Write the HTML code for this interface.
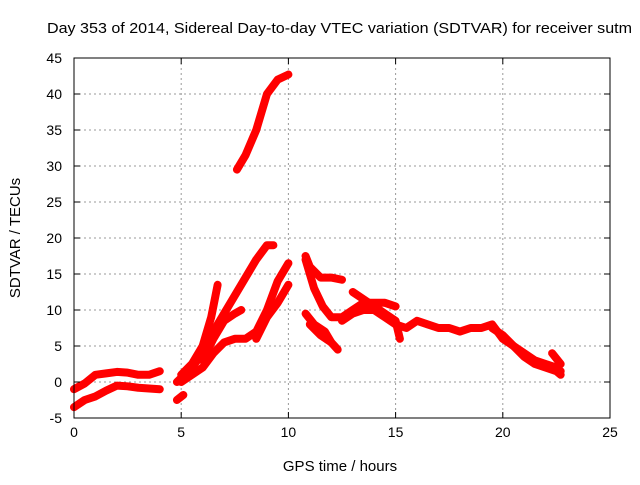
<!DOCTYPE html>
<html><head><meta charset="utf-8"><style>
body{margin:0;background:#fff;font-family:"Liberation Sans",sans-serif;}
</style></head><body>
<svg id="c" width="640" height="480" xmlns="http://www.w3.org/2000/svg">
<text x="47" y="33" textLength="585" lengthAdjust="spacingAndGlyphs" font-size="15">Day 353 of 2014, Sidereal Day-to-day VTEC variation (SDTVAR) for receiver sutm</text>
<text x="340" y="471" text-anchor="middle" font-size="15">GPS time / hours</text>
<text transform="translate(20,238) rotate(-90)" text-anchor="middle" font-size="15">SDTVAR / TECUs</text>
<g id="grid"></g><g id="marks"></g><g id="axes"></g>
</svg>
<script>
const xTicks=[0,5,10,15,20,25];
const yTicks=[-5,0,5,10,15,20,25,30,35,40,45];
const s1h=[0,0.5,1,1.5,2,2.5,3,3.5,4], s1v=[-1,-0.2,1,1.2,1.4,1.3,1,1,1.5];
const s2h=[0,0.5,1,1.5,2,2.5,3,3.5,4], s2v=[-3.5,-2.5,-2,-1.2,-0.5,-0.6,-0.8,-0.9,-1];
const s3h=[7.6,8,8.5,9,9.5,10], s3v=[29.5,31.5,35,40,42,42.7];
const s4h=[4.8,5.5,6,6.5,7,7.5,8,8.5,9,9.3], s4v=[0,2,4,7,9.5,12,14.5,17,19,19];
const s5h=[5,5.5,6,6.4,6.6,6.7], s5v=[1,2.5,5,9,12,13.5];
const s6h=[6,6.5,7,7.5,7.8], s6v=[3,6,8.5,9.5,10];
const s7h=[5,6,6.5,7,7.5,8,8.5,9,9.5,10], s7v=[0,2,4,5.5,6,6,7,10,14,16.5];
const s8h=[8.5,9,9.5,10], s8v=[6,9,11,13.5];
const s9h=[4.8,5.1], s9v=[-2.5,-1.8];
const s10h=[10.8,11,11.5,12,12.5], s10v=[17.5,16,14.5,14.5,14.2];
const s11h=[10.8,11.2,11.6,12,12.5,13,13.5,14,14.5,15], s11v=[17,13,10.5,9,9,10,11,11,11,10.5];
const s12h=[10.8,11.2,11.7,12,12.3], s12v=[9.5,8,7,5.5,4.5];
const s13h=[11,11.5,12], s13v=[8,6.5,5.5];
const s14h=[12.5,13,13.5,14,14.5,15,15.5,16,16.5,17,17.5,18,18.5,19,19.5,20,20.5,21,21.5,22,22.5,22.7], s14v=[8.5,9.5,10,10,9,8,7.5,8.5,8,7.5,7.5,7,7.5,7.5,8,6,5,3.5,2.5,2,1.5,1];
const s15h=[13,13.5,14,14.5,15,15.2], s15v=[12.5,11.5,10.5,9.5,8.5,6];
const s16h=[19.5,20,20.5,21,21.5,22,22.5,22.7], s16v=[7.5,6.5,5,4,3,2.5,2,1.5];
const s17h=[22.3,22.7], s17v=[4,2.5];
const series=[[s1h,s1v],[s2h,s2v],[s3h,s3v],[s4h,s4v],[s5h,s5v],[s6h,s6v],[s7h,s7v],[s8h,s8v],[s9h,s9v],[s10h,s10v],[s11h,s11v],[s12h,s12v],[s13h,s13v],[s14h,s14v],[s15h,s15v],[s16h,s16v],[s17h,s17v]];
const L=74,R=610,T=58,B=418;
const X=h=>L+(h-0)/25*(R-L);
const Y=v=>B-(v+5)/50*(B-T);
const NS="http://www.w3.org/2000/svg";
function mk(t,p,parent){const e=document.createElementNS(NS,t);for(const k in p)e.setAttribute(k,p[k]);parent.appendChild(e);return e;}
const grid=document.getElementById('grid'),axes=document.getElementById('axes'),marks=document.getElementById('marks');
xTicks.forEach(t=>{
 if(t>0&&t<25){const g=mk('line',{x1:X(t),x2:X(t),y1:T,y2:B,stroke:'#999','stroke-dasharray':'2,3'},grid);
 
 }
 mk('line',{x1:X(t),x2:X(t),y1:B,y2:B-6,stroke:'#000'},axes);mk('line',{x1:X(t),x2:X(t),y1:T,y2:T+6,stroke:'#000'},axes);
 const l=mk('text',{x:X(t),y:B+19,'text-anchor':'middle','font-size':'14'},axes);l.textContent=t;
 
 
});
yTicks.forEach(t=>{
 if(t>-5&&t<45){const g=mk('line',{x1:L,x2:R,y1:Y(t),y2:Y(t),stroke:'#999','stroke-dasharray':'2,3'},grid);
 
 }
 mk('line',{x1:L,x2:L+6,y1:Y(t),y2:Y(t),stroke:'#000'},axes);mk('line',{x1:R,x2:R-6,y1:Y(t),y2:Y(t),stroke:'#000'},axes);
 const l=mk('text',{x:L-12,y:Y(t)+5,'text-anchor':'end','font-size':'14'},axes);l.textContent=t;
 
 
});
const fr=mk('rect',{x:L,y:T,width:R-L,height:B-T,fill:'none',stroke:'#000'},axes);


series.forEach((s,i)=>{
 const pts=s[0].map((h,j)=>X(h)+','+Y(s[1][j])).join(' ');
 const p=mk('polyline',{points:pts,fill:'none',stroke:'#f00','stroke-width':'8','stroke-linejoin':'round','stroke-linecap':'round'},marks);
 
 
});
</script>
</body></html>
